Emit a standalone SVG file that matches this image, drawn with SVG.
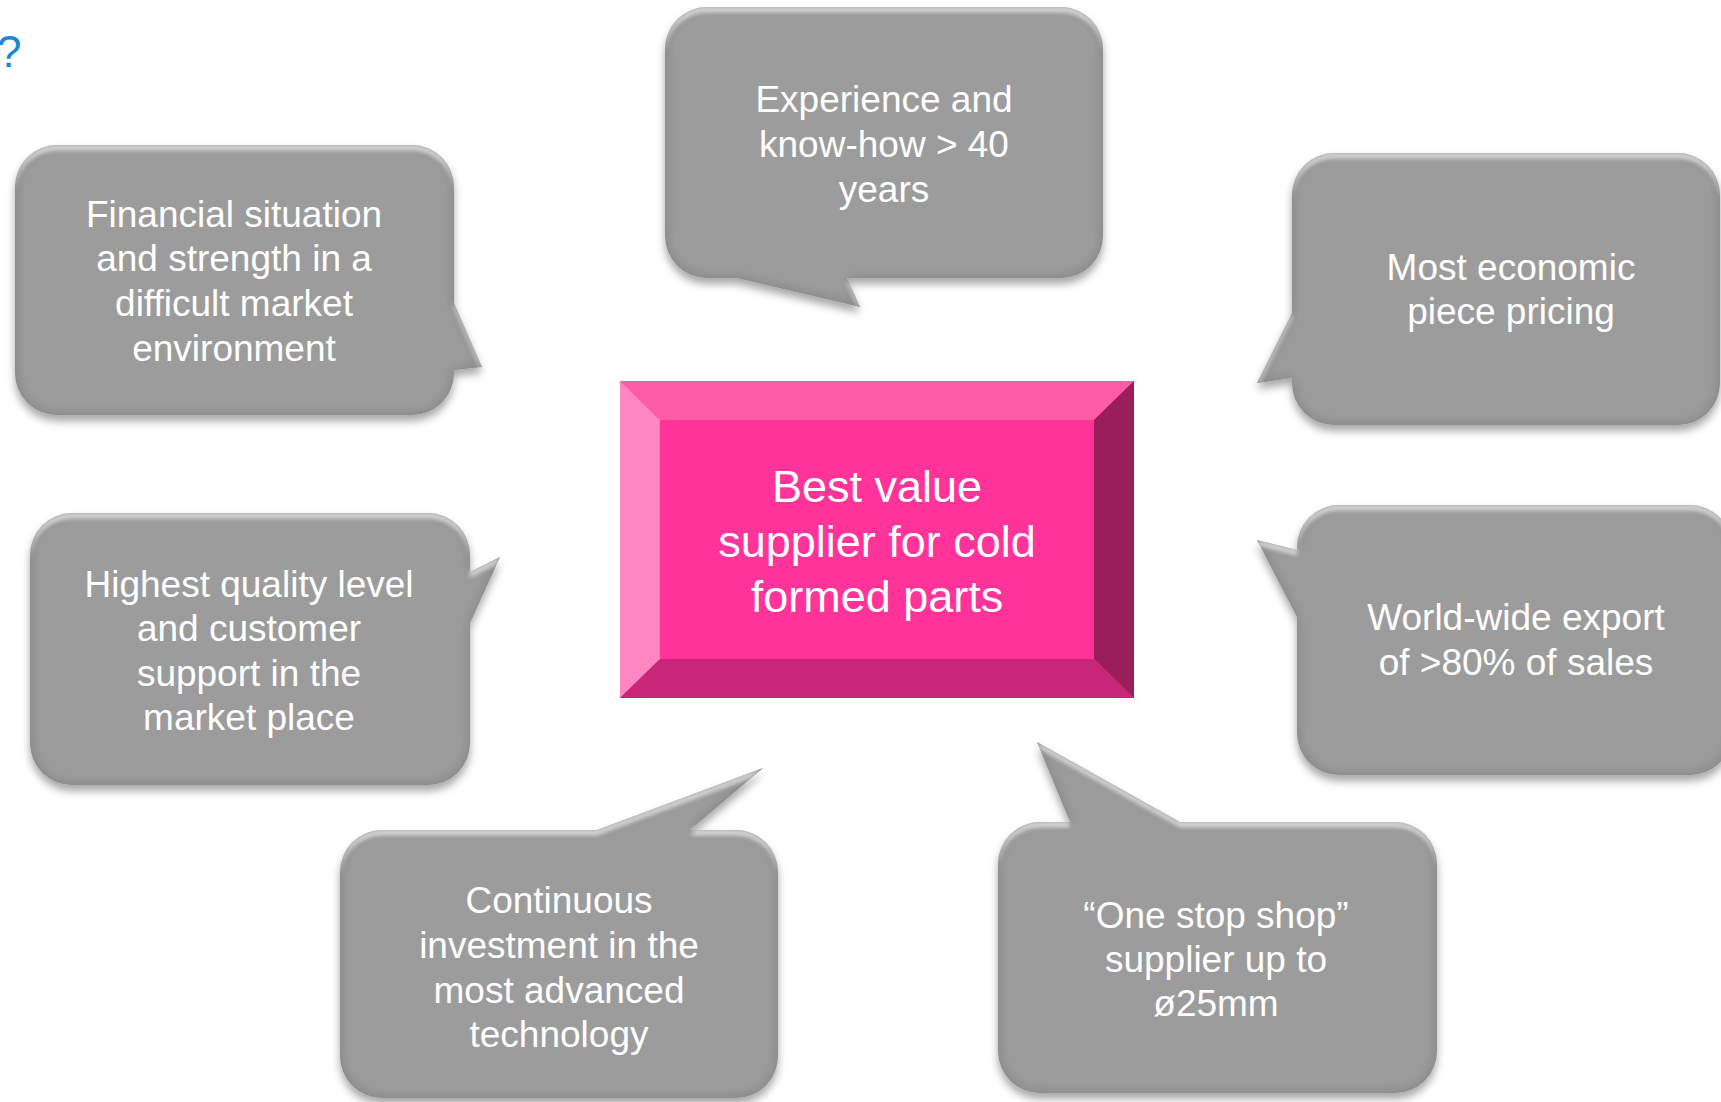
<svg xmlns="http://www.w3.org/2000/svg" width="1721" height="1102" viewBox="0 0 1721 1102">
  <defs>
    <style>
      .bub { fill: #9c9c9c; filter: url(#soft); }
      .btxt { font-family: "Liberation Sans", Arial, sans-serif; font-size: 37px; fill: #ffffff; text-anchor: middle; }
      .ctxt { font-family: "Liberation Sans", Arial, sans-serif; font-size: 45px; fill: #ffffff; text-anchor: middle; }
      .q { font-family: "Liberation Sans", Arial, sans-serif; font-size: 44px; fill: #1a86d6; }
    </style>
    <filter id="soft" x="-10%" y="-15%" width="120%" height="135%">
      <feGaussianBlur in="SourceAlpha" stdDeviation="4" result="blur"/>
      <feOffset in="blur" dy="6" result="sh"/>
      <feComponentTransfer in="sh" result="shadow"><feFuncA type="linear" slope="0.35"/></feComponentTransfer>
      <feGaussianBlur in="SourceAlpha" stdDeviation="7" result="b2"/>
      <feComposite in="SourceAlpha" in2="b2" operator="out" result="edge"/>
      <feFlood flood-color="#5f5f5f" flood-opacity="0.55"/>
      <feComposite in2="edge" operator="in" result="edgeShade"/>
      <feOffset in="SourceAlpha" dy="5" result="down"/>
      <feComposite in="SourceAlpha" in2="down" operator="out" result="topEdge"/>
      <feGaussianBlur in="topEdge" stdDeviation="2" result="topBlur"/>
      <feFlood flood-color="#ffffff" flood-opacity="0.6"/>
      <feComposite in2="topBlur" operator="in" result="hl0"/>
      <feComposite in="hl0" in2="SourceAlpha" operator="in" result="hl"/>
      <feMerge>
        <feMergeNode in="shadow"/>
        <feMergeNode in="SourceGraphic"/>
        <feMergeNode in="edgeShade"/>
        <feMergeNode in="hl"/>
      </feMerge>
    </filter>
  </defs>

  <rect x="0" y="0" width="1721" height="1102" fill="#ffffff"/>

  <text class="q" x="-3" y="67">?</text>

  <g id="connectors"></g>

  <g id="center-node">
    <rect x="620" y="381" width="514" height="317" fill="#ff3399"/>
    <polygon points="620,381 1134,381 1094,420 660,420" fill="#ff5ca8"/>
    <polygon points="620,381 660,420 660,659 620,698" fill="#ff86c0"/>
    <polygon points="1134,381 1134,698 1094,659 1094,420" fill="#9a1e5a"/>
    <polygon points="620,698 660,659 1094,659 1134,698" fill="#c92677"/>
    <text class="ctxt" x="877" y="502">Best value</text>
    <text class="ctxt" x="877" y="557">supplier for cold</text>
    <text class="ctxt" x="877" y="612">formed parts</text>
  </g>

  <g id="node-financial">
    <path class="bub" d="M57,145 H412 A42,42 0 0 1 454,187 V303 L482,367 L454,370 V373 A42,42 0 0 1 412,415 H57 A42,42 0 0 1 15,373 V187 A42,42 0 0 1 57,145 Z"/>
    <text class="btxt" x="234" y="227">Financial situation</text>
    <text class="btxt" x="234" y="271">and strength in a</text>
    <text class="btxt" x="234" y="316">difficult market</text>
    <text class="btxt" x="234" y="361">environment</text>
  </g>

  <g id="node-experience">
    <path class="bub" d="M707,7 H1061 A42,42 0 0 1 1103,49 V236 A42,42 0 0 1 1061,278 H847 L860,307 L737,278 H707 A42,42 0 0 1 665,236 V49 A42,42 0 0 1 707,7 Z"/>
    <text class="btxt" x="884" y="112">Experience and</text>
    <text class="btxt" x="884" y="157">know-how &gt; 40</text>
    <text class="btxt" x="884" y="202">years</text>
  </g>

  <g id="node-pricing">
    <path class="bub" d="M1334,153 H1678 A42,42 0 0 1 1720,195 V383 A42,42 0 0 1 1678,425 H1334 A42,42 0 0 1 1292,383 V378 L1257,383 L1292,313 V195 A42,42 0 0 1 1334,153 Z"/>
    <text class="btxt" x="1511" y="280">Most economic</text>
    <text class="btxt" x="1511" y="324">piece pricing</text>
  </g>

  <g id="node-quality">
    <path class="bub" d="M72,513 H428 A42,42 0 0 1 470,555 V572 L500,557 L470,623 V743 A42,42 0 0 1 428,785 H72 A42,42 0 0 1 30,743 V555 A42,42 0 0 1 72,513 Z"/>
    <text class="btxt" x="249" y="597">Highest quality level</text>
    <text class="btxt" x="249" y="641">and customer</text>
    <text class="btxt" x="249" y="686">support in the</text>
    <text class="btxt" x="249" y="730">market place</text>
  </g>

  <g id="node-export">
    <path class="bub" d="M1339,505 H1690 A42,42 0 0 1 1732,547 V733 A42,42 0 0 1 1690,775 H1339 A42,42 0 0 1 1297,733 V617 L1257,540 L1297,550 V547 A42,42 0 0 1 1339,505 Z"/>
    <text class="btxt" x="1516" y="630">World-wide export</text>
    <text class="btxt" x="1516" y="675">of &gt;80% of sales</text>
  </g>

  <g id="node-investment">
    <path class="bub" d="M382,830 H597 L763,768 L690,830 H736 A42,42 0 0 1 778,872 V1056 A42,42 0 0 1 736,1098 H382 A42,42 0 0 1 340,1056 V872 A42,42 0 0 1 382,830 Z"/>
    <text class="btxt" x="559" y="913">Continuous</text>
    <text class="btxt" x="559" y="958">investment in the</text>
    <text class="btxt" x="559" y="1003">most advanced</text>
    <text class="btxt" x="559" y="1047">technology</text>
  </g>

  <g id="node-onestop">
    <path class="bub" d="M1040,822 H1070 L1037,742 L1180,822 H1395 A42,42 0 0 1 1437,864 V1051 A42,42 0 0 1 1395,1093 H1040 A42,42 0 0 1 998,1051 V864 A42,42 0 0 1 1040,822 Z"/>
    <text class="btxt" x="1216" y="928">“One stop shop”</text>
    <text class="btxt" x="1216" y="972">supplier up to</text>
    <text class="btxt" x="1216" y="1016">ø25mm</text>
  </g>
</svg>
